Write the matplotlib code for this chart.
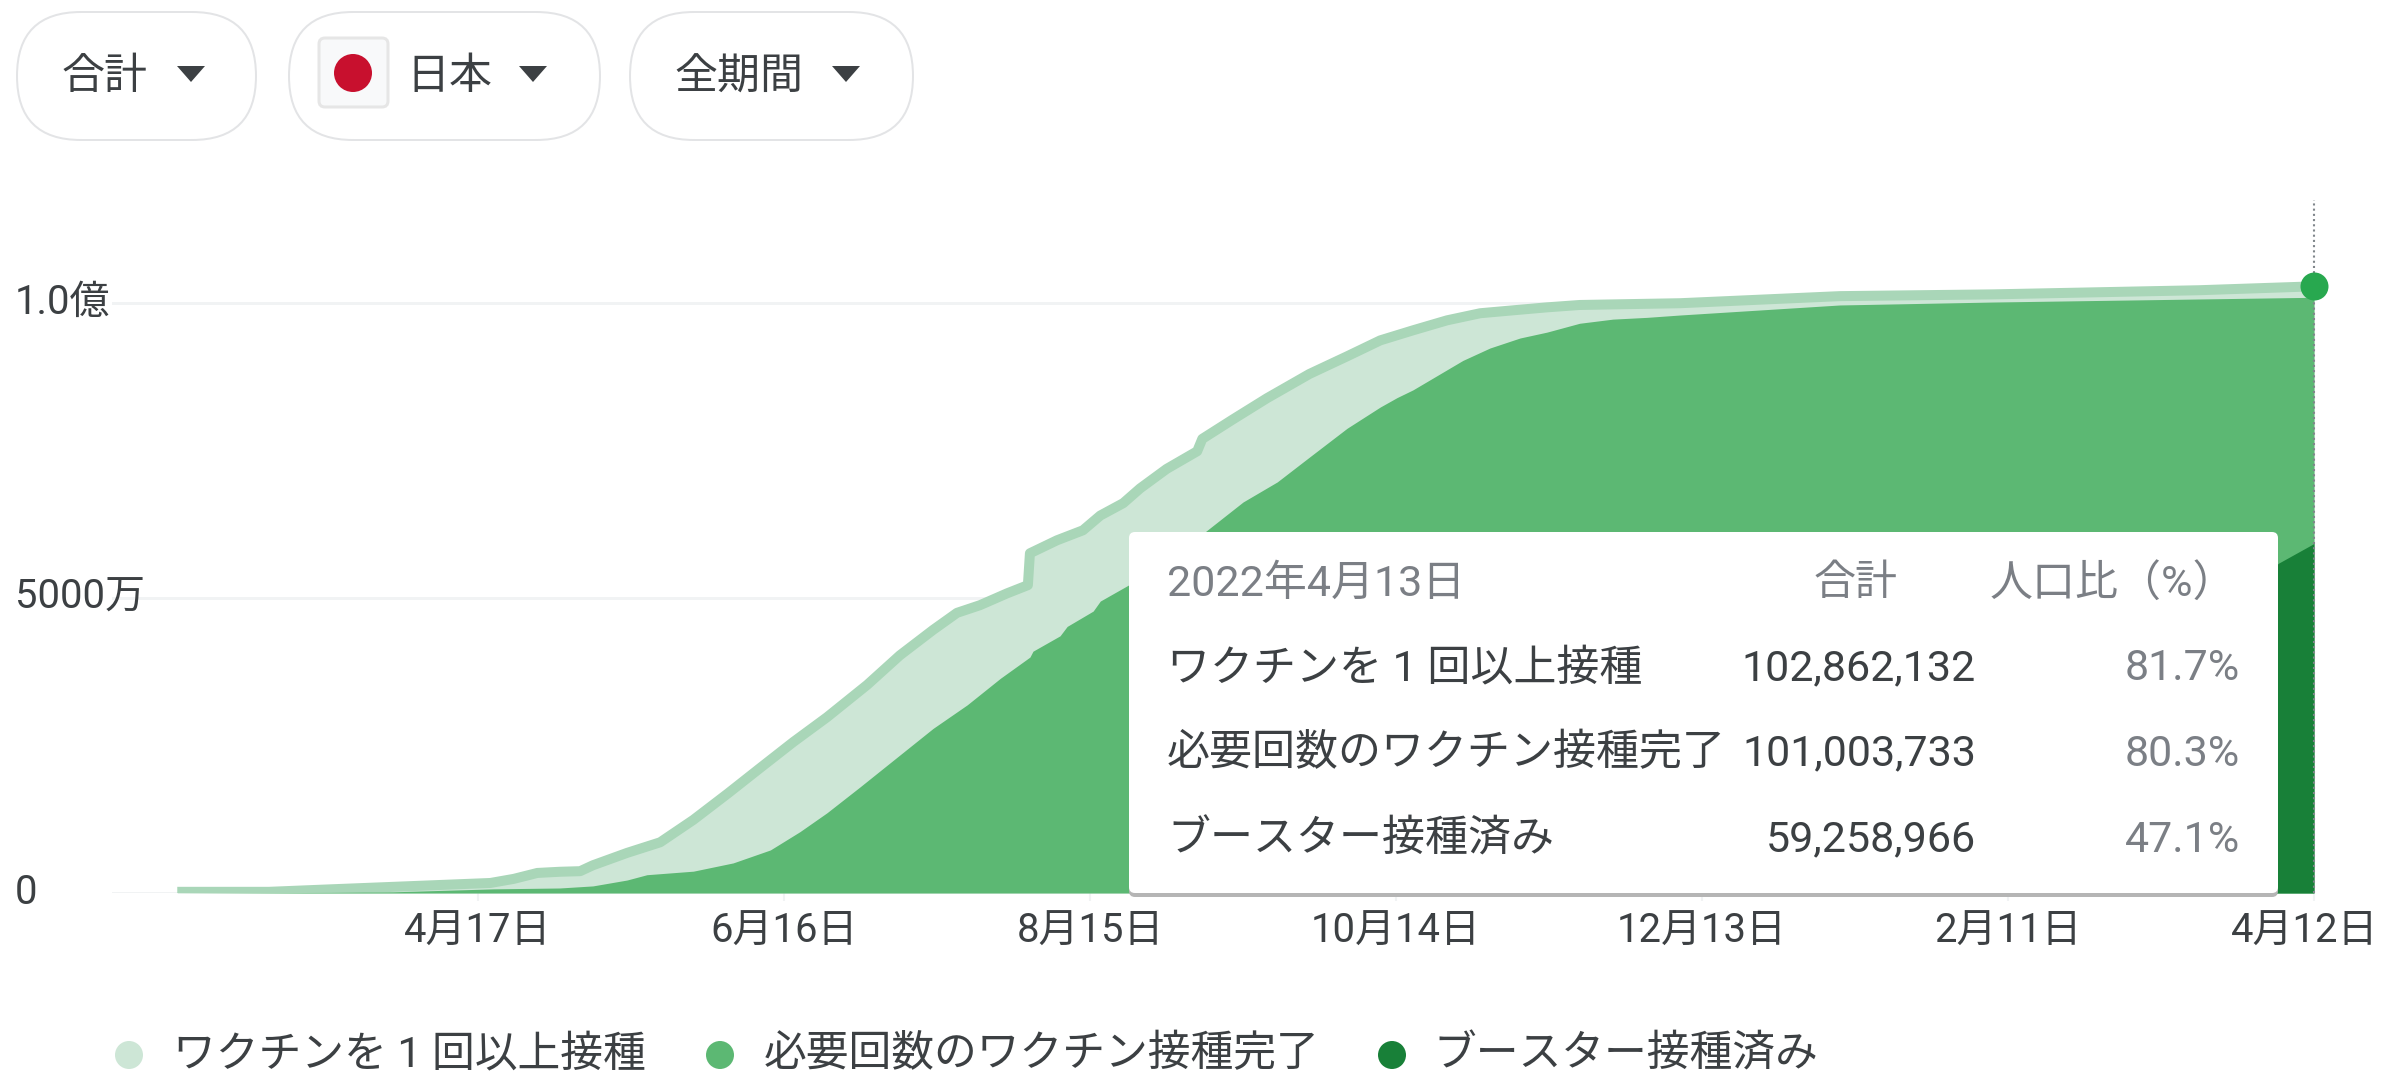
import matplotlib
matplotlib.use("Agg")
import matplotlib.pyplot as plt
from matplotlib.patches import FancyBboxPatch, Circle, Polygon
from matplotlib.transforms import ScaledTranslation

plt.rcParams['font.family'] = ['Roboto', 'Noto Sans CJK JP', 'DejaVu Sans']

# x = days since 2021-02-17, y = people in millions
first_days = [0, 18, 29.4, 61.4, 66, 70.6, 75, 79, 81.5, 88.2, 94.7, 101.2, 108, 114.3, 120.8, 127.4,
              135.3, 141.7, 148.2, 152.9, 157.4, 162.7, 166.8, 167.2, 172.5, 177.6, 181,
              185.5, 188.8, 194, 200, 201, 207, 213.7, 222, 229.4, 235.9, 242.3, 249, 255.5, 262,
              268.6, 275, 294.7, 326, 356, 396.4, 419]
first_vals = [0.2, 0.2, 0.6, 1.7, 2.4, 3.4, 3.6, 3.7, 4.7, 6.8, 8.6, 12.4, 16.9, 21.2, 25.6, 29.8,
              35.3, 40.3, 44.6, 47.5, 48.8, 50.8, 52.2, 57.6, 59.8, 61.5, 64.0,
              66.1, 68.6, 71.9, 74.9, 77.0, 80.3, 83.9, 88.0, 91.0, 93.7, 95.4, 97.1, 98.3, 98.8,
              99.3, 99.7, 100.0, 101.2, 101.5, 102.2, 102.862]

full_days = [0, 30, 42.3, 62, 75, 81.5, 88.2, 92.1, 101.2, 109, 116.3, 122.1, 127.4, 133.9, 141.7, 148.2,
             154.9, 161.4, 167.2, 167.8, 173.1, 174.5, 179.6, 181, 186.5, 201.5, 209, 215.7, 222,
             229.4, 235.9, 239.2, 242.3, 247.2, 252.1, 257.4, 263.3, 268.6, 275, 281.5, 288.2, 294.7,
             326, 356, 419]
full_vals = [0.0, 0.1, 0.2, 0.7, 0.85, 1.2, 2.2, 3.1, 3.7, 5.1, 7.3, 10.4, 13.6, 18.0, 23.4, 27.9,
             31.9, 36.4, 40.0, 41.0, 43.6, 45.2, 47.8, 49.5, 52.2, 61.2, 66.3, 69.7, 73.9,
             78.8, 82.4, 84.0, 85.3, 87.8, 90.3, 92.4, 94.1, 95.1, 96.6, 97.3, 97.6, 98.0,
             99.7, 100.2, 101.004]

# mostly hidden behind the tooltip, only the end can be read
booster_days = [290, 330, 345, 359, 375, 390, 400, 412, 419]
booster_vals = [0.0, 1.0, 2.5, 5.0, 20.0, 37.0, 46.0, 55.9, 59.259]

x_ticks = [59, 119, 179, 239, 299, 359, 419]
x_labels = ['4月17日', '6月16日', '8月15日', '10月14日', '12月13日', '2月11日', '4月12日']
y_ticks = [0, 50, 100]
y_labels = ['0', '5000万', '1.0億']

series_names = ['ワクチンを 1 回以上接種', '必要回数のワクチン接種完了', 'ブースター接種済み']
tooltip_totals = ['102,862,132', '101,003,733', '59,258,966']
tooltip_pcts = ['81.7%', '80.3%', '47.1%']

LIGHT = '#cde6d6'
LIGHT_LINE = '#a9d6b8'
MID = '#5cb873'
DARK = '#188038'
TEXT = '#3c4043'
GREY = '#7b7f85'

W, H = 2384, 1074
fig = plt.figure(figsize=(W / 100, H / 100), dpi=100, facecolor='white')

PX = 0.72  # pixels to points at dpi 100
left, right, top, bottom = 112, 2314, 200, 893
ax = fig.add_axes([left / W, 1 - bottom / H, (right - left) / W, (bottom - top) / H])
ax.set_xlim(-12.8, 419)
ax.set_ylim(0, 117.5)
for s in ax.spines.values():
    s.set_visible(False)

ax.set_yticks(y_ticks)
ax.set_yticklabels(y_labels, fontsize=40 * PX, color=TEXT, ha='left')
ax.tick_params(axis='y', length=0, pad=(left - 15) * PX)
for lab in ax.get_yticklabels():
    lab.set_transform(lab.get_transform() + ScaledTranslation(0, 5 / 100, fig.dpi_scale_trans))
ax.set_xticks(x_ticks)
ax.set_xticklabels(x_labels, fontsize=40 * PX, color=TEXT)
ax.tick_params(axis='x', length=8 * PX, width=1.5, color='#f1f3f4', pad=11 * PX)
# last label sits a little left of its tick
last = ax.get_xticklabels()[-1]
last.set_transform(last.get_transform() + ScaledTranslation(-9 / 100, 0, fig.dpi_scale_trans))
ax.grid(axis='y', color='#f1f3f4', lw=3 * PX, zorder=0)
ax.set_axisbelow(True)

ax.fill_between(first_days, first_vals, color=LIGHT, lw=0, zorder=2)
ax.plot(first_days, first_vals, color=LIGHT_LINE, lw=10 * PX, solid_capstyle='butt', zorder=3)
ax.fill_between(full_days, full_vals, color=MID, lw=0, zorder=4)
ax.fill_between(booster_days, booster_vals, color=DARK, lw=0, zorder=5)

ax.plot([419, 419], [0, 117.5], color='#80868b', lw=1.5, ls=(0, (1, 1.5)), zorder=6, clip_on=False)
ax.plot([419], [first_vals[-1]], 'o', ms=28 * PX, color='#28a84f', mec='none', zorder=7, clip_on=False)

# page furniture drawn in pixel coordinates
ui = fig.add_axes([0, 0, 1, 1], facecolor='none')
ui.set_xlim(0, W)
ui.set_ylim(H, 0)
ui.axis('off')


def pill(x0, x1, y0=12, y1=140):
    ui.add_patch(FancyBboxPatch((x0, y0), x1 - x0, y1 - y0, boxstyle='round,pad=0,rounding_size=64',
                                fc='white', ec='#e3e4e6', lw=2 * PX))


def arrow(cx, cy=74):
    ui.add_patch(Polygon([(cx - 14, cy - 8), (cx + 14, cy - 8), (cx, cy + 8)], fc=TEXT, ec='none'))


pill(17, 256)
pill(289, 600)
pill(630, 913)
ui.text(62, 78, '合計', fontsize=43 * PX, color=TEXT, va='center')
arrow(191)
ui.add_patch(FancyBboxPatch((319, 38), 69, 69, boxstyle='round,pad=0,rounding_size=6',
                            fc='#f8f9fa', ec='#e6e6e6', lw=3 * PX))
ui.add_patch(Circle((353, 73), 19, fc='#c8102e', ec='none'))
ui.text(406, 78, '日本', fontsize=43 * PX, color=TEXT, va='center')
arrow(533)
ui.text(674, 78, '全期間', fontsize=43 * PX, color=TEXT, va='center')
arrow(846)

# tooltip
ui.add_patch(FancyBboxPatch((1129, 536), 1149, 361, boxstyle='round,pad=0,rounding_size=6',
                            fc='#b5b5b5', ec='none', zorder=8))
ui.add_patch(FancyBboxPatch((1129, 532), 1149, 361, boxstyle='round,pad=0,rounding_size=6',
                            fc='white', ec='none', zorder=9))
ui.text(1167, 584, '2022年4月13日', fontsize=43 * PX, color=GREY, va='center', zorder=10)
ui.text(1898, 584, '合計', fontsize=42 * PX, color=GREY, va='center', ha='right', zorder=10)
ui.text(2236, 584, '人口比（%）', fontsize=43 * PX, color=GREY, va='center', ha='right', zorder=10)
for row_y, name, total, pct in zip([669, 754, 840], series_names, tooltip_totals, tooltip_pcts):
    ui.text(1167, row_y, name, fontsize=43 * PX, color=TEXT, va='center', zorder=10)
    ui.text(1976, row_y, total, fontsize=43 * PX, color=TEXT, va='center', ha='right', zorder=10)
    ui.text(2240, row_y, pct, fontsize=43 * PX, color=GREY, va='center', ha='right', zorder=10)

# legend
for mx, tx, color, name in zip([129, 720, 1392], [173, 764, 1433], [LIGHT, MID, DARK], series_names):
    ui.add_patch(Circle((mx, 1055), 14, fc=color, ec='none'))
    ui.text(tx, 1055, name, fontsize=42.8 * PX, color=TEXT, va='center')

fig.savefig('out.png', dpi=100)
